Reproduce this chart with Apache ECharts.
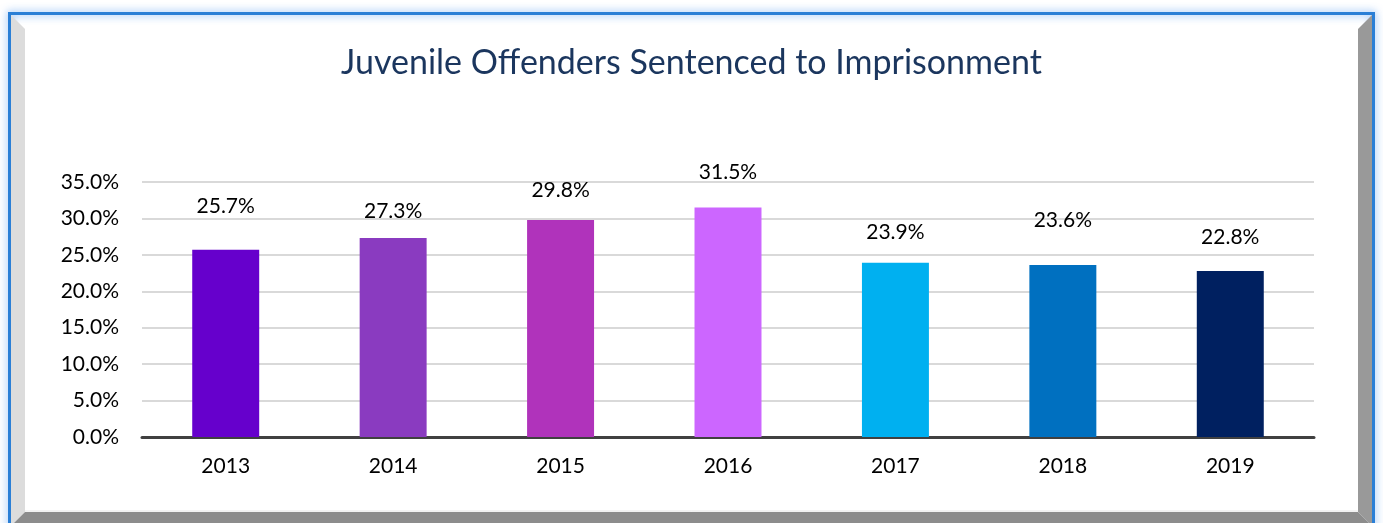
<!DOCTYPE html>
<html><head><meta charset="utf-8">
<script src="https://cdn.jsdelivr.net/npm/echarts@6/dist/echarts.min.js"></script>
<style>html,body{margin:0;padding:0;background:#fff;}#c{width:1383px;height:523px;}</style>
</head><body><div id="c"></div>
<script>
const categories = ['2013','2014','2015','2016','2017','2018','2019'];
const values = [25.7, 27.3, 29.8, 31.5, 23.9, 23.6, 22.8];
const yTicks = [0, 5, 10, 15, 20, 25, 30, 35];
const barColors = ['#6600cc','#8a3bc0','#b033bb','#cc66ff','#00b0f0','#0070c0','#002060'];
const labelGaps = [33, 16, 19, 25, 20, 34, 23];

const chart = echarts.init(document.getElementById('c'), null, {renderer:'canvas'});
const font = 'Lato, "Noto Sans", sans-serif';
chart.setOption({
  animation: false,
  backgroundColor: '#ffffff',
  title: {
    text: 'Juvenile Offenders Sentenced to Imprisonment',
    left: 'center', top: 41,
    textStyle: {fontFamily: font, fontSize: 34, fontWeight: 'normal', color: '#1b365e'}
  },
  grid: {left: 142, right: 69, top: 182, bottom: 86, containLabel: false},
  xAxis: {
    type: 'category', data: categories,
    axisLine: {lineStyle: {color: '#404040', width: 3}},
    axisTick: {show: false},
    axisLabel: {fontFamily: font, fontSize: 21, color: '#000', margin: 19}
  },
  yAxis: {
    type: 'value', min: yTicks[0], max: yTicks[yTicks.length-1], interval: 5,
    axisLine: {show: false}, axisTick: {show: false},
    splitLine: {lineStyle: {color: '#d9d9d9', width: 2}},
    axisLabel: {fontFamily: font, fontSize: 21, color: '#000', margin: 23,
      formatter: v => v.toFixed(1) + '%'}
  },
  series: [{
    type: 'bar', barWidth: '40%',
    data: values.map((v, i) => ({
      value: v,
      itemStyle: {color: barColors[i]},
      label: {show: true, position: 'top', distance: labelGaps[i]}
    })),
    label: {fontFamily: font, fontSize: 21, color: '#000', formatter: p => p.value.toFixed(1) + '%'}
  }],
  graphic: [
    {type: 'rect', silent: true, z: 100,
      shape: {x: 9.5, y: 13.5, width: 1364, height: 530},
      style: {fill: 'none', stroke: '#2a7fd6', lineWidth: 3, shadowBlur: 8, shadowColor: 'rgba(60,140,240,0.8)'}},
    {type: 'polygon', silent: true, z: 101,
      shape: {points: [[11,15],[25,29],[25,512],[11,526]]},
      style: {fill: '#dcdcdc'}},
    {type: 'polygon', silent: true, z: 101,
      shape: {points: [[1372,15],[1358,29],[1358,512],[1372,526]]},
      style: {fill: '#999999'}},
    {type: 'polygon', silent: true, z: 102,
      shape: {points: [[25,512],[1358,512],[1372,526],[11,526]]},
      style: {fill: '#8c8c8c'}},
    {type: 'line', silent: true, z: 101,
      shape: {x1: 25, y1: 511, x2: 1358, y2: 511},
      style: {stroke: '#e6e6e6', lineWidth: 1}}
  ]
});
</script></body></html>
